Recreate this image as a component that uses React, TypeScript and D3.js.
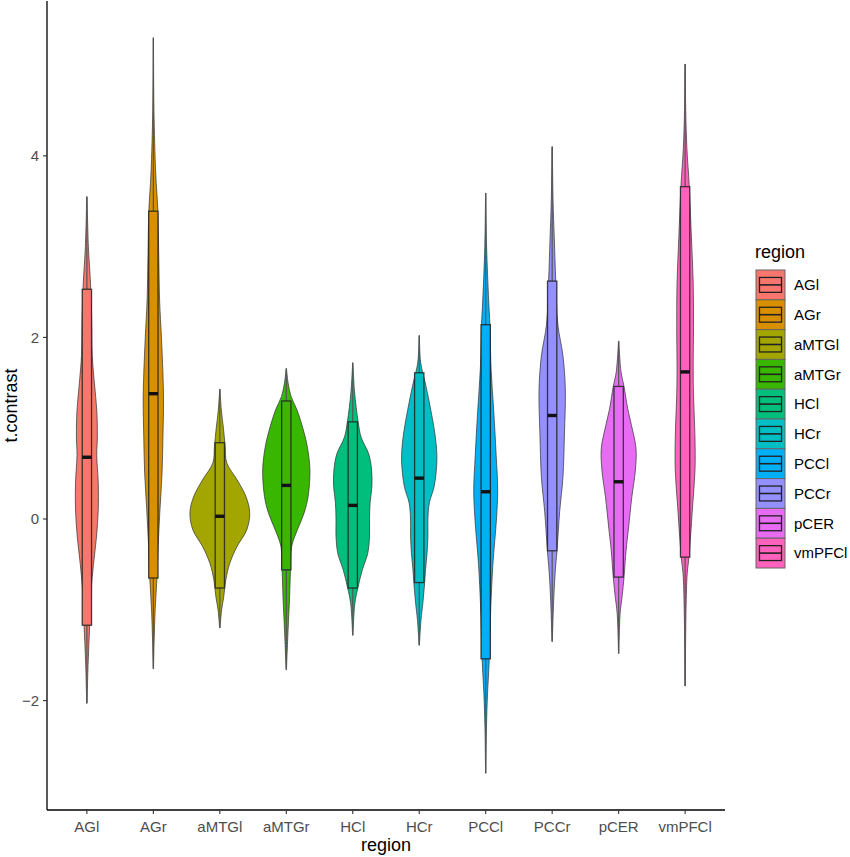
import * as d3 from 'd3';

const regions = ['AGl', 'AGr', 'aMTGl', 'aMTGr', 'HCl', 'HCr', 'PCCl', 'PCCr', 'pCER', 'vmPFCl'];
const fills = ['#F8766D', '#D89000', '#A3A500', '#39B600', '#00BF7D', '#00BFC4', '#00B0F6', '#9590FF', '#E76BF3', '#FF62BC'];

// boxplot stats per region
const whiskerLow = [-2.03, -1.65, -1.2, -1.66, -1.28, -1.39, -2.8, -1.35, -1.48, -1.84];
const q1 = [-1.17, -0.65, -0.76, -0.56, -0.76, -0.7, -1.54, -0.35, -0.64, -0.42];
const medians = [0.68, 1.38, 0.03, 0.37, 0.15, 0.45, 0.3, 1.14, 0.41, 1.62];
const q3 = [2.53, 3.39, 0.84, 1.3, 1.07, 1.61, 2.14, 2.62, 1.46, 3.66];
const whiskerHigh = [3.55, 5.3, 1.43, 1.65, 1.72, 2.02, 3.59, 4.1, 1.96, 5.01];

// violin density profiles: [t.contrast, relative density]
const densAGl = [[-2.03, 0.005], [-1.6, 0.04], [-1.2, 0.09], [-0.8, 0.14], [-0.5, 0.22], [-0.2, 0.32], [0.1, 0.38], [0.4, 0.38], [0.7, 0.33], [0.9, 0.35], [1.2, 0.33], [1.5, 0.25], [1.8, 0.18], [2.2, 0.16], [2.6, 0.12], [3.0, 0.05], [3.55, 0.005]];
const densAGr = [[-1.65, 0.005], [-1.3, 0.03], [-1.0, 0.06], [-0.65, 0.12], [-0.3, 0.16], [0.1, 0.22], [0.5, 0.29], [0.9, 0.32], [1.3, 0.34], [1.6, 0.32], [2.0, 0.27], [2.4, 0.21], [2.9, 0.18], [3.4, 0.15], [3.8, 0.08], [4.5, 0.02], [5.3, 0.005]];
const densAMTGl = [[-1.2, 0.005], [-1.0, 0.06], [-0.86, 0.13], [-0.67, 0.2], [-0.49, 0.33], [-0.3, 0.58], [-0.12, 0.9], [0.07, 1.0], [0.25, 0.87], [0.43, 0.58], [0.62, 0.23], [0.8, 0.18], [1.0, 0.12], [1.2, 0.05], [1.43, 0.005]];
const densAMTGr = [[-1.66, 0.005], [-1.22, 0.06], [-0.86, 0.11], [-0.56, 0.14], [-0.3, 0.18], [-0.12, 0.37], [0.07, 0.6], [0.25, 0.73], [0.54, 0.79], [0.8, 0.7], [0.98, 0.57], [1.2, 0.36], [1.35, 0.16], [1.5, 0.06], [1.66, 0.005]];
const densHCl = [[-1.28, 0.005], [-0.93, 0.07], [-0.76, 0.17], [-0.56, 0.32], [-0.38, 0.5], [-0.19, 0.56], [-0.01, 0.56], [0.18, 0.58], [0.36, 0.64], [0.54, 0.63], [0.72, 0.53], [0.9, 0.28], [1.07, 0.18], [1.4, 0.06], [1.72, 0.005]];
const densHCr = [[-1.39, 0.005], [-1.11, 0.06], [-0.93, 0.12], [-0.75, 0.17], [-0.56, 0.21], [-0.38, 0.26], [-0.19, 0.29], [0.0, 0.29], [0.18, 0.34], [0.36, 0.5], [0.65, 0.59], [0.9, 0.54], [1.28, 0.34], [1.5, 0.2], [1.72, 0.05], [2.02, 0.005]];
const densPCCl = [[-2.8, 0.005], [-2.3, 0.025], [-1.93, 0.06], [-1.54, 0.12], [-0.97, 0.17], [-0.5, 0.24], [0.0, 0.36], [0.32, 0.4], [0.7, 0.35], [1.18, 0.27], [1.65, 0.18], [2.14, 0.14], [2.4, 0.1], [3.0, 0.03], [3.59, 0.005]];
const densPCCr = [[-1.35, 0.005], [-0.9, 0.05], [-0.59, 0.1], [-0.35, 0.16], [0.08, 0.25], [0.46, 0.36], [0.94, 0.41], [1.42, 0.44], [1.8, 0.36], [2.14, 0.19], [2.62, 0.12], [3.1, 0.07], [3.5, 0.03], [4.1, 0.005]];
const densPCER = [[-1.48, 0.005], [-1.04, 0.05], [-0.84, 0.12], [-0.64, 0.18], [-0.34, 0.25], [-0.1, 0.33], [0.24, 0.44], [0.54, 0.56], [0.78, 0.58], [1.03, 0.43], [1.22, 0.3], [1.46, 0.18], [1.62, 0.08], [1.96, 0.005]];
const densVmPFCl = [[-1.84, 0.005], [-1.0, 0.03], [-0.6, 0.07], [-0.42, 0.13], [-0.2, 0.18], [0.14, 0.25], [0.54, 0.33], [0.88, 0.33], [1.38, 0.28], [1.62, 0.27], [2.11, 0.28], [2.6, 0.27], [3.1, 0.21], [3.66, 0.14], [4.08, 0.06], [4.5, 0.02], [5.01, 0.005]];
const densities = [densAGl, densAGr, densAMTGl, densAMTGr, densHCl, densHCr, densPCCl, densPCCr, densPCER, densVmPFCl];

const yTicks = [-2, 0, 2, 4];

const W = 850;
const H = 857;
const FONT = '"Liberation Sans", Arial, sans-serif';

export default function App() {
  const left = 47, right = 725, top = 1, bottom = 810;

  const x = d3.scalePoint<string>().domain(regions).range([left, right]).padding(0.6);
  const step = x.step();

  const lo = d3.min(whiskerLow) as number;
  const hi = d3.max(whiskerHigh) as number;
  const pad = (hi - lo) * 0.05;
  const y = d3.scaleLinear().domain([lo - pad, hi + pad]).range([bottom, top]);

  const w = d3.scaleLinear().domain([0, 1]).range([0, step * 0.45]);
  const boxW = step * 0.14;
  const fmt = d3.format('d');

  const violin = (cx: number) =>
    d3.area<number[]>()
      .y(d => y(d[0]))
      .x0(d => cx - w(d[1]))
      .x1(d => cx + w(d[1]))
      .curve(d3.curveCatmullRom.alpha(0.5));

  const keyX = 756, keyW = 29, keyTop = 270, keyH = 29.8;

  return (
    <svg width={W} height={H} style={{ position: 'absolute', left: 0, top: 0, background: '#fff' }} fontFamily={FONT}>
      {regions.map((r, i) => {
        const cx = x(r) as number;
        return (
          <g key={r}>
            <path d={violin(cx)(densities[i]) || ''} fill={fills[i]} stroke="#333" strokeWidth={0.9} strokeOpacity={0.8} />
            <line x1={cx} x2={cx} y1={y(whiskerHigh[i])} y2={y(q3[i])} stroke="#555" strokeWidth={1.2} />
            <line x1={cx} x2={cx} y1={y(q1[i])} y2={y(whiskerLow[i])} stroke="#555" strokeWidth={1.2} />
            <rect x={cx - boxW / 2} y={y(q3[i])} width={boxW} height={y(q1[i]) - y(q3[i])}
              fill={fills[i]} stroke="#222" strokeWidth={1.3} strokeOpacity={0.85} />
            <line x1={cx - boxW / 2} x2={cx + boxW / 2} y1={y(medians[i])} y2={y(medians[i])} stroke="#111" strokeWidth={3.4} />
          </g>
        );
      })}

      {/* axes */}
      <line x1={left} x2={left} y1={top} y2={bottom} stroke="#000" strokeWidth={1.3} />
      <line x1={left} x2={right} y1={bottom} y2={bottom} stroke="#000" strokeWidth={1.3} />
      {yTicks.map(t => (
        <g key={t}>
          <line x1={left - 4} x2={left} y1={y(t)} y2={y(t)} stroke="#333" strokeWidth={1.1} />
          <text x={left - 8} y={y(t)} dy="0.35em" textAnchor="end" fontSize={15} fill="#4d4d4d">{fmt(t)}</text>
        </g>
      ))}
      {regions.map(r => (
        <g key={r}>
          <line x1={x(r)} x2={x(r)} y1={bottom} y2={bottom + 4} stroke="#333" strokeWidth={1.1} />
          <text x={x(r)} y={bottom + 22} textAnchor="middle" fontSize={15} fill="#4d4d4d">{r}</text>
        </g>
      ))}
      <text x={(left + right) / 2} y={851} textAnchor="middle" fontSize={18} fill="#000">region</text>
      <text transform={`translate(17,${(top + bottom) / 2}) rotate(-90)`} textAnchor="middle" fontSize={18} fill="#000">t.contrast</text>

      {/* legend */}
      <text x={755} y={258} fontSize={18} fill="#000">region</text>
      {regions.map((r, i) => {
        const ky = keyTop + i * keyH;
        return (
          <g key={r}>
            <rect x={keyX} y={ky} width={keyW} height={keyH} fill={fills[i]} stroke="#666" strokeWidth={1} />
            <rect x={keyX + keyW * 0.12} y={ky + keyH * 0.25} width={keyW * 0.76} height={keyH * 0.5}
              fill={fills[i]} stroke="#222" strokeWidth={1.3} />
            <line x1={keyX + keyW * 0.12} x2={keyX + keyW * 0.88} y1={ky + keyH / 2} y2={ky + keyH / 2} stroke="#222" strokeWidth={1.6} />
            <text x={794} y={ky + keyH / 2} dy="0.35em" fontSize={15} fill="#000">{r}</text>
          </g>
        );
      })}
    </svg>
  );
}
